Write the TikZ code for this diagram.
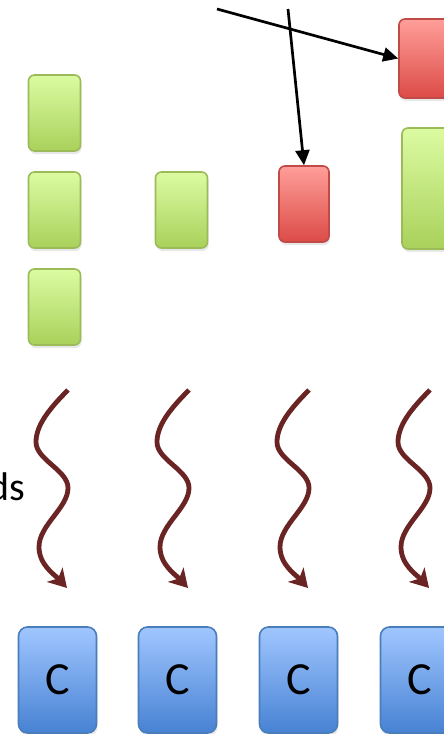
\documentclass[tikz,border=0pt]{standalone}
\usepackage{fontspec}
\setmainfont{Carlito}
\usepackage{tikz}
\usetikzlibrary{arrows.meta,shadows}
\definecolor{gtop}{HTML}{DCFBA2}
\definecolor{gbot}{HTML}{A9D15B}
\definecolor{gline}{HTML}{9BBB59}
\definecolor{rtop}{HTML}{FF9E99}
\definecolor{rbot}{HTML}{DC4B47}
\definecolor{rline}{HTML}{BE4B48}
\definecolor{btop}{HTML}{A0C6FF}
\definecolor{bbot}{HTML}{4782D3}
\definecolor{bline}{HTML}{4A7EBB}
\definecolor{wavec}{HTML}{6A2424}
\tikzset{
  box/.style={rounded corners=6pt, line width=1.6pt, inner sep=0pt,
    drop shadow={opacity=0.18, shadow xshift=1pt, shadow yshift=-3pt}},
  gbox/.style={box, draw=gline, top color=gtop, bottom color=gbot,
    minimum width=52pt, minimum height=76pt},
  rbox/.style={box, draw=rline, top color=rtop, bottom color=rbot,
    minimum width=50pt, minimum height=76pt},
  cbox/.style={box, rounded corners=9pt, draw=bline, top color=btop, bottom color=bbot,
    minimum width=78pt, minimum height=106pt, font=\fontsize{46}{46}\selectfont},
  ptr/.style={draw=black, line width=2.7pt, -{Triangle[length=15pt,width=14pt]}},
  wave/.style={draw=wavec, line width=4.8pt,
    -{Stealth[length=18pt,width=21pt,inset=5pt]}},
  lab/.style={font=\fontsize{40}{40}\selectfont, inner sep=0pt},
}

\begin{document}
\begin{tikzpicture}[x=1pt, y=-1pt]
  \clip (0,0) rectangle (444,734);

  % queued work
  \node[gbox] (g11) at (54.5,113) {};
  \node[gbox] (g12) at (54.5,210) {};
  \node[gbox] (g13) at (54.5,307) {};
  \node[gbox] (g21) at (181.5,210) {};
  \node[rbox] (r3) at (304,204) {};
  \node[rbox, minimum height=79pt, minimum width=52pt] (r4) at (425,58.5) {};
  \node[gbox, minimum height=121pt] (g4) at (428,188.5) {};

  % incoming items
  \coordinate (src1) at (217,9);
  \coordinate (src2) at (288,9);
  \draw[ptr] (src1) -- (r4.west);
  \draw[ptr] (src2) -- (r3.north);

  \node[lab, anchor=base east] (ds) at (25,500) {ds};

  % one wavy arrow per column
  \foreach \dx in {0,121,241,362} {
    \draw[wave] ({\dx+68},390)
      .. controls ({\dx+50},408) and ({\dx+36},425) .. ({\dx+36},442)
      .. controls ({\dx+36},460) and ({\dx+68},470) .. ({\dx+68},488)
      .. controls ({\dx+68},508) and ({\dx+39},525) .. ({\dx+39},547)
      .. controls ({\dx+39},565) and ({\dx+55},575) .. ({\dx+67},588);
  }

  % workers
  \node[cbox] (c1) at (57.5,680) {C};
  \node[cbox] (c2) at (177.5,680) {C};
  \node[cbox] (c3) at (298.5,680) {C};
  \node[cbox] (c4) at (419.5,680) {C};
\end{tikzpicture}
\end{document}
